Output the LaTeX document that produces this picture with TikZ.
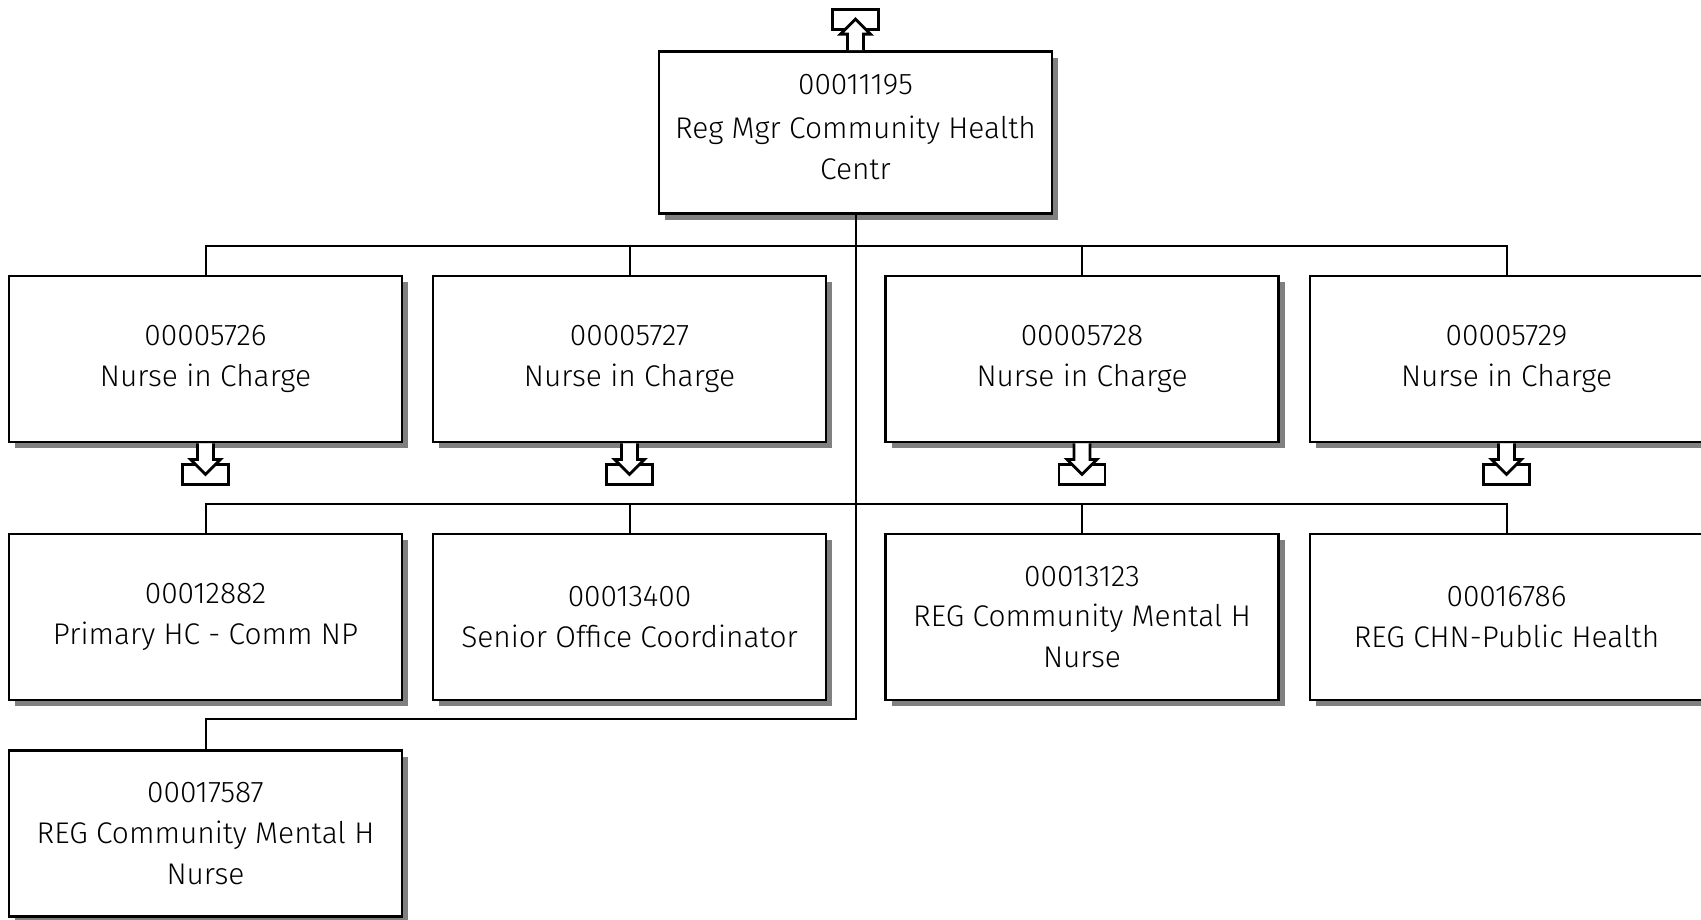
\documentclass[tikz,border=0pt]{standalone}
\usepackage{fontspec}
\setmainfont{Fira Sans}[UprightFont=* Light]
\usetikzlibrary{shadows}

\tikzset{
  post/.style={draw, line width=1.4bp, fill=white, minimum width=196.5bp, minimum height=83bp,
    align=center, inner sep=2bp, font=\fontsize{15}{20.5}\selectfont,
    drop shadow={shadow xshift=3bp, shadow yshift=-3bp, fill=black!50, opacity=1}},
  conn/.style={line width=1bp},
  pics/hollowmark/.style={code={
    \draw[line width=1.4bp] (-23,21) rectangle (23,41);
    \draw[line width=1.4bp, fill=white] (-8,0) -- (-8,16) -- (-15,16) -- (0,31) -- (15,16) -- (8,16) -- (8,0);
  }}
}

\begin{document}
\begin{tikzpicture}[x=0.5bp, y=-0.5bp]
  \useasboundingbox (0,0) rectangle (1701,919);

  % manager
  \node[post, minimum height=81bp] (top) at (855.5,132.5) {00011195\\[1.5bp]Reg Mgr Community Health\\Centr\\[-15bp]};

  % nurses in charge
  \node[post] (n1) at (205.5,359) {00005726\\Nurse in Charge};
  \node[post] (n2) at (629.5,359) {00005727\\Nurse in Charge};
  \node[post] (n3) at (1082,359) {00005728\\Nurse in Charge};
  \node[post] (n4) at (1506.5,359) {00005729\\Nurse in Charge};

  % staff
  \node[post] (s1) at (205.5,617) {00012882\\Primary HC - Comm NP};
  \node[post] (s2) at (629.5,617) {00013400\\Senior Office Coordinator};
  \node[post] (s3) at (1082,617) {00013123\\REG Community Mental H\\Nurse};
  \node[post] (s4) at (1506.5,617) {00016786\\REG CHN-Public Health};
  \node[post] (s5) at (205.5,833.5) {00017587\\REG Community Mental H\\Nurse};

  \coordinate (bus1) at (0,246);
  \coordinate (bus2) at (0,504);
  \coordinate (bus3) at (0,719);

  \draw[conn] (top.south) -- (top.south |- bus3) -| (s5.north);
  \foreach \n in {n1,n2,n3,n4} \draw[conn] (top.south |- bus1) -| (\n.north);
  \foreach \n in {s1,s2,s3,s4} \draw[conn] (top.south |- bus2) -| (\n.north);

  % drill marks
  \pic[yscale=-1] at (top.north) {hollowmark};
  \foreach \n in {n1,n2,n3,n4} \pic at (\n.south) {hollowmark};
\end{tikzpicture}
\end{document}
